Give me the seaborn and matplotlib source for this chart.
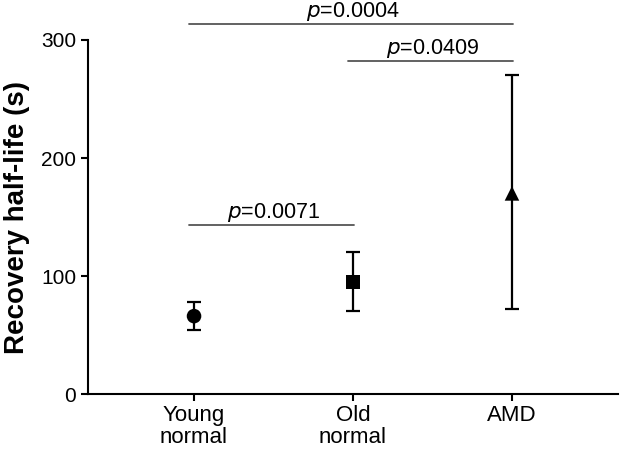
import matplotlib
matplotlib.use("Agg")
import matplotlib.pyplot as plt
import seaborn as sns
import pandas as pd

categories = ["Young\nnormal", "Old\nnormal", "AMD"]
means = [66, 95, 170]
err_low = [54, 70, 72]
err_high = [78, 120, 270]
markers = ["o", "s", "^"]
y_ticks = [0, 100, 200, 300]
comparisons = [(0, 1, 143, "0.0071"), (1, 2, 282, "0.0409"), (0, 2, 313.5, "0.0004")]

sns.set_theme(style="ticks")
plt.rcParams["font.family"] = ["Liberation Sans", "DejaVu Sans"]
plt.rcParams["text.color"] = "black"
plt.rcParams["axes.labelcolor"] = "black"
plt.rcParams["xtick.color"] = "black"
plt.rcParams["ytick.color"] = "black"

fig = plt.figure(figsize=(6.2, 4.53), dpi=100)
ax = fig.add_axes([88/620, 59/453, (618-88)/620, (394-40)/453])

df = pd.DataFrame({"group": categories, "value": means})
sns.scatterplot(data=df, x="group", y="value", style="group",
                markers=dict(zip(categories, markers)), color="black",
                s=110, edgecolor="black", linewidth=0, legend=False, ax=ax, zorder=3)

xs = list(range(len(categories)))
lower = [m - l for m, l in zip(means, err_low)]
upper = [h - m for m, h in zip(means, err_high)]
ax.errorbar(xs, means, yerr=[lower, upper], fmt="none", ecolor="black",
            elinewidth=1.6, capsize=5, capthick=1.6, zorder=2)

for i, j, y, p in comparisons:
    ax.plot([i - 0.03, j + 0.005], [y, y], color="#555555", lw=1.3, clip_on=False)
    ax.text((i + j) / 2, y + 6, r"$\it{p}$=" + p, ha="center", va="baseline",
            fontsize=15.5, clip_on=False)

ax.set_xlim(-0.667, 2.667)
ax.set_ylim(0, 300)
ax.set_yticks(y_ticks)
ax.set_xticks(xs)
ax.set_xticklabels(categories, fontsize=16, linespacing=1.05)
ax.tick_params(axis="y", labelsize=15, width=1.5, length=5, color="black")
ax.tick_params(axis="x", width=1.5, length=5, color="black", pad=3)
ax.set_xlabel("")
ax.set_ylabel("Recovery half-life (s)", fontsize=20, fontweight="bold", labelpad=8)
sns.despine(ax=ax)
for s in ["left", "bottom"]:
    ax.spines[s].set_linewidth(1.5)
    ax.spines[s].set_color("black")

fig.savefig("out.png", dpi=100)
